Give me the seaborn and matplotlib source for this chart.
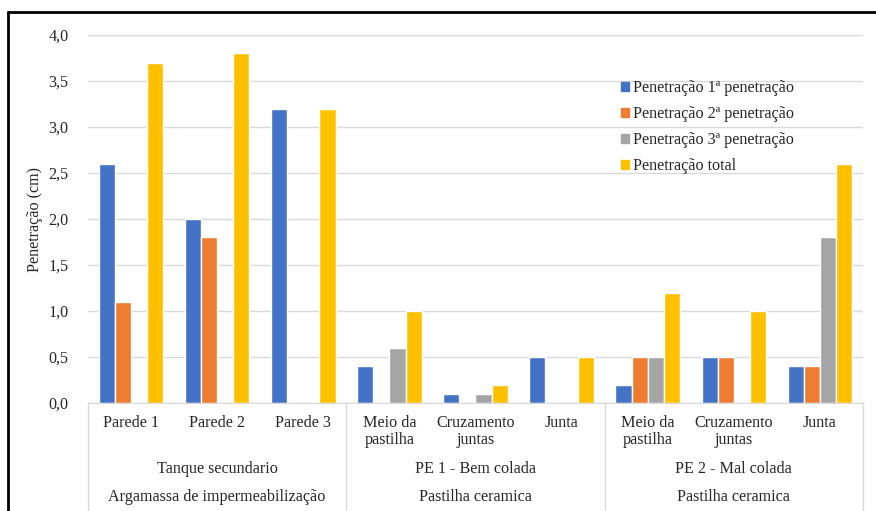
import pandas as pd
import seaborn as sns
import matplotlib.pyplot as plt
from matplotlib.lines import Line2D
from matplotlib.ticker import FuncFormatter

# Dados de penetração (cm)
categorias = ["Parede 1", "Parede 2", "Parede 3",
              "Meio da\npastilha", "Cruzamento\njuntas", "Junta",
              "Meio da\npastilha", "Cruzamento\njuntas", "Junta"]
pen1 = [2.6, 2.0, 3.2, 0.4, 0.1, 0.5, 0.2, 0.5, 0.4]
pen2 = [1.1, 1.8, 0.0, 0.0, 0.0, 0.0, 0.5, 0.5, 0.4]
pen3 = [0.0, 0.0, 0.0, 0.6, 0.1, 0.0, 0.5, 0.0, 1.8]
total = [3.7, 3.8, 3.2, 1.0, 0.2, 0.5, 1.2, 1.0, 2.6]
series = ["Penetração 1ª penetração", "Penetração 2ª penetração",
          "Penetração 3ª penetração", "Penetração total"]

grupos_nivel2 = ["Tanque secundario", "PE 1 - Bem colada", "PE 2 - Mal colada"]
grupos_nivel3 = ["Argamassa de impermeabilização", "Pastilha ceramica", "Pastilha ceramica"]
tamanho_grupo = [3, 3, 3]

cores = ["#4472C4", "#ED7D31", "#A5A5A5", "#FFC000"]

rows = []
for s, vals in zip(series, [pen1, pen2, pen3, total]):
    for i, v in enumerate(vals):
        rows.append({"pos": i, "serie": s, "valor": v})
df = pd.DataFrame(rows)

sns.set_style("white")
plt.rcParams['font.family'] = ['Liberation Serif', 'DejaVu Serif']
fs = 11.6

fig = plt.figure(figsize=(8.76, 5.11), dpi=100)
ax = fig.add_axes([88 / 876, 1 - 403 / 511, 775 / 876, 368 / 511])

sns.barplot(data=df, x="pos", y="valor", hue="serie", palette=cores,
            width=0.75, saturation=1, ax=ax, errorbar=None)

ax.set_ylim(0, 4)
ax.set_xlim(-0.5, len(categorias) - 0.5)
ax.set_yticks([i * 0.5 for i in range(9)])
ax.yaxis.set_major_formatter(FuncFormatter(lambda v, p: f"{v:.1f}".replace(".", ",")))
ax.tick_params(axis="y", length=0, pad=14, labelsize=fs)
ax.grid(True, axis="y", color="#D9D9D9", linewidth=1)
ax.set_axisbelow(True)
for side in ["top", "right", "left"]:
    ax.spines[side].set_visible(False)
ax.spines["bottom"].set_color("#D9D9D9")
ax.set_xticks([])
ax.set_xlabel("")
ax.set_ylabel("Penetração (cm)", fontsize=fs, labelpad=4)

# rótulos de categoria em vários níveis
tr = ax.get_xaxis_transform()
for i, c in enumerate(categorias):
    ax.text(i, -0.033, c, transform=tr, ha="center", va="top", fontsize=fs,
            linespacing=1.05)
inicio = 0
seps = [-0.5]
for n, g2, g3 in zip(tamanho_grupo, grupos_nivel2, grupos_nivel3):
    meio = inicio + (n - 1) / 2
    ax.text(meio, -0.18, g2, transform=tr, ha="center", va="center", fontsize=fs)
    ax.text(meio, -0.255, g3, transform=tr, ha="center", va="center", fontsize=fs)
    inicio += n
    seps.append(inicio - 0.5)
for s in seps:
    ax.add_line(Line2D([s, s], [0, -0.32], transform=tr, color="#D9D9D9",
                       linewidth=1, clip_on=False))

handles = [plt.Rectangle((0, 0), 1, 1, color=c) for c in cores]
ax.legend(handles, series, loc="upper left", bbox_to_anchor=(0.68, 0.895),
          frameon=False, fontsize=fs, handlelength=0.45, handleheight=0.45,
          handletextpad=0.25, labelspacing=0.62, borderaxespad=0)

# moldura
fig.add_artist(Line2D([8 / 876, 1], [1 - 12 / 511, 1 - 12 / 511],
                      transform=fig.transFigure, color="black", linewidth=2))
fig.add_artist(Line2D([8 / 876, 8 / 876], [0, 1 - 12 / 511],
                      transform=fig.transFigure, color="black", linewidth=2))

fig.savefig("out.png", dpi=100)
